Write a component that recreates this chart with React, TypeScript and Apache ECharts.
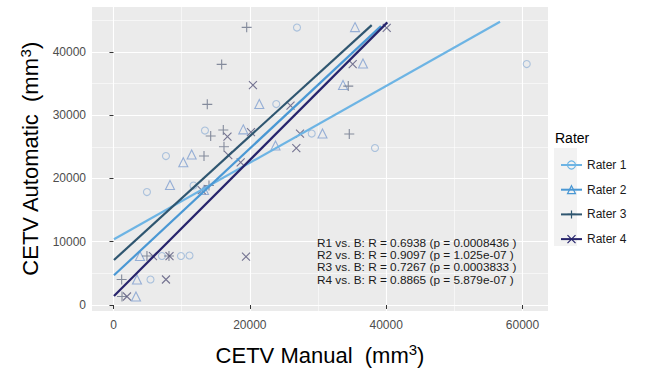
import React, { useEffect, useRef } from "react";
import * as echarts from "echarts";

// ---- data ----
const raters = ["Rater 1", "Rater 2", "Rater 3", "Rater 4"];

const r1Manual = [26920, 60620, 23880, 13420, 29080, 38360, 7700, 4910, 11740, 7110, 9900, 11150, 5430];
const r1Auto = [43850, 38080, 31760, 27570, 27100, 24810, 23540, 17850, 18880, 7740, 7740, 7820, 4030];

const r2Manual = [35430, 36600, 33670, 21390, 19040, 30660, 23770, 10240, 11470, 8290, 3890, 3450, 3300, 13280];
const r2Auto = [43920, 38160, 34760, 31760, 27760, 27100, 25200, 22550, 23780, 18960, 7740, 4030, 1340, 18170];

const r3Manual = [19540, 15870, 13760, 14260, 16110, 16210, 13280, 34590, 34440, 1200, 1250, 4910, 8140, 14010];
const r3Auto = [43880, 38030, 31710, 26700, 27650, 25010, 23540, 27020, 34600, 4030, 1340, 7740, 7740, 18880];

const r4Manual = [40080, 20460, 25970, 20170, 27360, 16720, 16840, 26820, 35090, 18660, 19440, 7700, 1980, 5790, 8220, 12940];
const r4Auto = [43810, 34760, 31520, 27330, 27100, 26620, 23700, 24810, 38080, 22550, 7630, 4030, 1340, 7740, 7740, 18170];

// regression line end points per rater
const fitStartManual = [73, 73, 73, 73];
const fitStartAuto = [10380, 4690, 7110, 1420];
const fitEndManual = [56700, 39240, 37880, 40170];
const fitEndAuto = [44760, 44080, 44240, 44670];

const xTicks = [0, 20000, 40000, 60000];
const yTicks = [0, 10000, 20000, 30000, 40000];

const statLines = [
  "R1 vs. B: R = 0.6938 (p = 0.0008436 )",
  "R2 vs. B: R = 0.9097 (p = 1.025e-07 )",
  "R3 vs. B: R = 0.7267 (p = 0.0003833 )",
  "R4 vs. B: R = 0.8865 (p = 5.879e-07 )",
];

const lineColors = ["#6db4e4", "#4a98d4", "#2f5670", "#27246c"];
const pointColors = ["#9ab6d8", "#7f9fcf", "#6a7388", "#56557a"];
const symbols = [
  "circle",
  "triangle",
  "path://M5,0L5,10M0,5L10,5",
  "path://M0,0L10,10M10,0L0,10",
];
const symbolSizes = [7, 9, 10, 8];

export default function App() {
  const ref = useRef<HTMLDivElement>(null);
  useEffect(() => {
    const chart = echarts.init(ref.current!, null, { renderer: "svg" });
    const font = "'Liberation Sans', Arial, Helvetica, sans-serif";
    const manual = [r1Manual, r2Manual, r3Manual, r4Manual];
    const auto = [r1Auto, r2Auto, r3Auto, r4Auto];

    const lineSeries = raters.map((name, i) => ({
      type: "line",
      name,
      z: 4,
      silent: true,
      data: [
        [fitStartManual[i], fitStartAuto[i]],
        [fitEndManual[i], fitEndAuto[i]],
      ],
      symbol: symbols[i],
      symbolSize: symbolSizes[i],
      showSymbol: false,
      lineStyle: { color: lineColors[i], width: 2.2 },
      itemStyle: { color: "rgba(0,0,0,0)", borderColor: lineColors[i], borderWidth: 1.2 },
    }));

    const scatterSeries = raters.map((name, i) => ({
      type: "scatter",
      name,
      z: 3,
      silent: true,
      data: manual[i].map((x, j) => [x, auto[i][j]]),
      symbol: symbols[i],
      symbolSize: symbolSizes[i],
      itemStyle: { color: "rgba(0,0,0,0)", borderColor: pointColors[i], borderWidth: 1.1 },
    }));

    const axisCommon = {
      type: "value",
      axisLine: { show: false },
      axisTick: { show: true, length: 4, lineStyle: { color: "#333333", width: 1 } },
      splitLine: { show: true, lineStyle: { color: "#ffffff", width: 1.1 } },
      minorTick: { show: false, splitNumber: 2 },
      minorSplitLine: { show: true, lineStyle: { color: "#ffffff", width: 0.55 } },
    };

    const titleRich = {
      a: { fontSize: 22, fontFamily: font, color: "#000", lineHeight: 26 },
      s: { fontSize: 15, fontFamily: font, color: "#000", lineHeight: 14, verticalAlign: "top" },
    };

    chart.setOption({
      animation: false,
      grid: {
        left: 92,
        top: 7,
        width: 456,
        height: 304,
        show: true,
        backgroundColor: "#ebebeb",
        borderWidth: 0,
        containLabel: false,
      },
      xAxis: {
        ...axisCommon,
        min: -3150,
        max: 63740,
        splitNumber: 4,
        minInterval: 20000,
        maxInterval: 20000,
        axisTick: { ...axisCommon.axisTick, customValues: xTicks },
        axisLabel: {
          customValues: xTicks,
          margin: 8,
          fontSize: 12,
          color: "#4d4d4d",
          fontFamily: font,
          formatter: (v: number) => (v % 20000 === 0 ? String(v) : ""),
        },
        name: "{a|CETV Manual  (mm}{s|3}{a|)}",
        nameLocation: "middle",
        nameGap: 31,
        nameTextStyle: { rich: titleRich },
      },
      yAxis: {
        ...axisCommon,
        min: -950,
        max: 47100,
        splitNumber: 5,
        minInterval: 10000,
        maxInterval: 10000,
        axisTick: { ...axisCommon.axisTick, customValues: yTicks },
        axisLabel: {
          customValues: yTicks,
          margin: 6,
          fontSize: 12,
          color: "#4d4d4d",
          fontFamily: font,
          formatter: (v: number) => (v % 10000 === 0 ? String(v) : ""),
        },
        name: "{a|CETV Automatic  (mm}{s|3}{a|)}",
        nameLocation: "middle",
        nameRotate: 90,
        nameGap: 46,
        nameTextStyle: { rich: titleRich },
      },
      legend: {
        data: raters,
        orient: "vertical",
        left: 555,
        top: 153,
        itemWidth: 21,
        itemHeight: 10,
        itemGap: 10.7,
        selectedMode: false,
        itemStyle: { borderWidth: 1.2 },
        textStyle: { fontSize: 12, color: "#1a1a1a", fontFamily: font, lineHeight: 14 },
      },
      graphic: [
        {
          type: "rect",
          left: 554,
          top: 148,
          z: 0,
          shape: { width: 23, height: 98 },
          style: { fill: "#f2f2f2" },
        },
        {
          type: "text",
          left: 555,
          top: 131,
          style: { text: "Rater", fontSize: 14, fill: "#000", fontFamily: font },
        },
        ...statLines.map((t, i) => ({
          type: "text",
          left: 317,
          top: 237 + i * 12.2,
          z: 10,
          style: { text: t, fontSize: 11.8, fill: "#1a1a1a", fontFamily: font },
        })),
      ],
      series: [...lineSeries, ...scatterSeries],
    });
    return () => chart.dispose();
  }, []);
  return (
    <div
      ref={ref}
      style={{ position: "absolute", left: 0, top: 0, width: 666, height: 376, background: "#fff" }}
    />
  );
}
